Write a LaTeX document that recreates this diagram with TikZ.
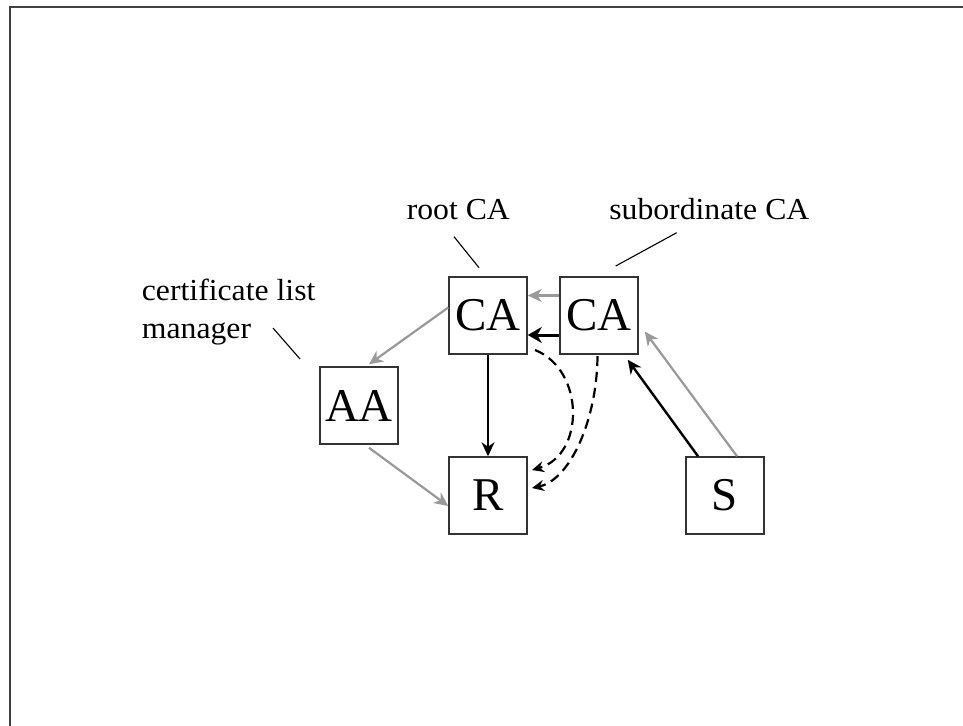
\documentclass[tikz,border=0pt]{standalone}
\usepackage{fontspec}
\setmainfont{Liberation Serif}
\newfontfamily\lblfont[FakeStretch=1.04]{Liberation Serif}
\usetikzlibrary{arrows.meta}
\definecolor{framegray}{HTML}{404040}
\definecolor{boxgray}{HTML}{333333}
\definecolor{arrgray}{HTML}{999999}
\tikzset{
  entity/.style={draw=boxgray, line width=1.5pt, minimum width=78pt, minimum height=77pt,
    inner sep=0pt, font=\fontsize{47}{50}\selectfont},
  lbl/.style={inner sep=0pt, font=\lblfont\fontsize{30.5}{38}\selectfont},
  leader/.style={draw=black, line width=1.1pt},
  tip/.style={-{Stealth[length=14pt,width=13pt,inset=4.5pt]}},
  tipsmall/.style={-{Stealth[length=12pt,width=11pt,inset=4pt]}},
  grayarrow/.style={tip, draw=arrgray, line width=2.2pt},
  blackarrow/.style={tip, draw=black, line width=2.4pt},
  thickarrow/.style={-{Stealth[length=14pt,width=16pt,inset=4.5pt]}, draw=black, line width=3pt},
  dasharrow/.style={tipsmall, draw=black, line width=2.2pt, dash pattern=on 10pt off 6pt},
}
\begin{document}
\begin{tikzpicture}[x=1pt,y=-1pt]
\useasboundingbox (0,0) rectangle (963,725);
% frame
\draw[framegray, line width=2pt] (10,726) -- (10,7) -- (964,7);

% boxes
\node[entity] (rca) at (488,315.5) {CA};
\node[entity] (sca) at (599,315.5) {CA};
\node[entity] (aa)  at (359,405.5) {AA};
\node[entity] (r)   at (488,495.5) {R};
\node[entity] (s)   at (725,495.5) {S};

% labels
\node[lbl, anchor=base] (lroot) at (458.3,219.3) {root CA};
\node[lbl, anchor=base] (lsub) at (709.3,219.3) {subordinate CA};
\node[lbl, anchor=base west] (lcert1) at (141.7,300) {certificate list};
\node[lbl, anchor=base west] (lcert2) at (141.7,338) {manager};

% leader lines
\coordinate (a1) at (454,236.7); \coordinate (a2) at (479,267.7);
\coordinate (b1) at (676.7,232.7); \coordinate (b2) at (615.7,266);
\coordinate (c1) at (273,328); \coordinate (c2) at (300,359);
\draw[leader] (a1) -- (a2);
\draw[leader] (b1) -- (b2);
\draw[leader] (c1) -- (c2);

% arrows
\draw[grayarrow] ([yshift=20pt]sca.west) -- ([yshift=20pt]rca.east);
\draw[thickarrow] ([yshift=-19.5pt]sca.west) -- ([yshift=-19.5pt]rca.east);
\draw[grayarrow] ([yshift=8pt]rca.west) -- ([xshift=10pt,yshift=2pt]aa.north);
\draw[blackarrow] (rca.south) -- (r.north);
\draw[grayarrow] ([xshift=10pt,yshift=-3pt]aa.south) -- ([yshift=-10.5pt]r.west);
\coordinate (d1) at (535,350);
\coordinate (d2) at (532,470);
\draw[dasharrow] (d1) .. controls (585,370) and (585,455) .. (d2);
\coordinate (e1) at (597.5,356);
\coordinate (e2) at (532,488);
\draw[dasharrow] (e1) .. controls (597,420) and (570,480) .. (e2);
\draw[blackarrow] ([xshift=-27pt]s.north) -- ([xshift=-11pt,yshift=-5pt]sca.south east);
\draw[grayarrow] ([xshift=12pt]s.north) -- ([xshift=6pt,yshift=-16pt]sca.east);
\end{tikzpicture}
\end{document}
